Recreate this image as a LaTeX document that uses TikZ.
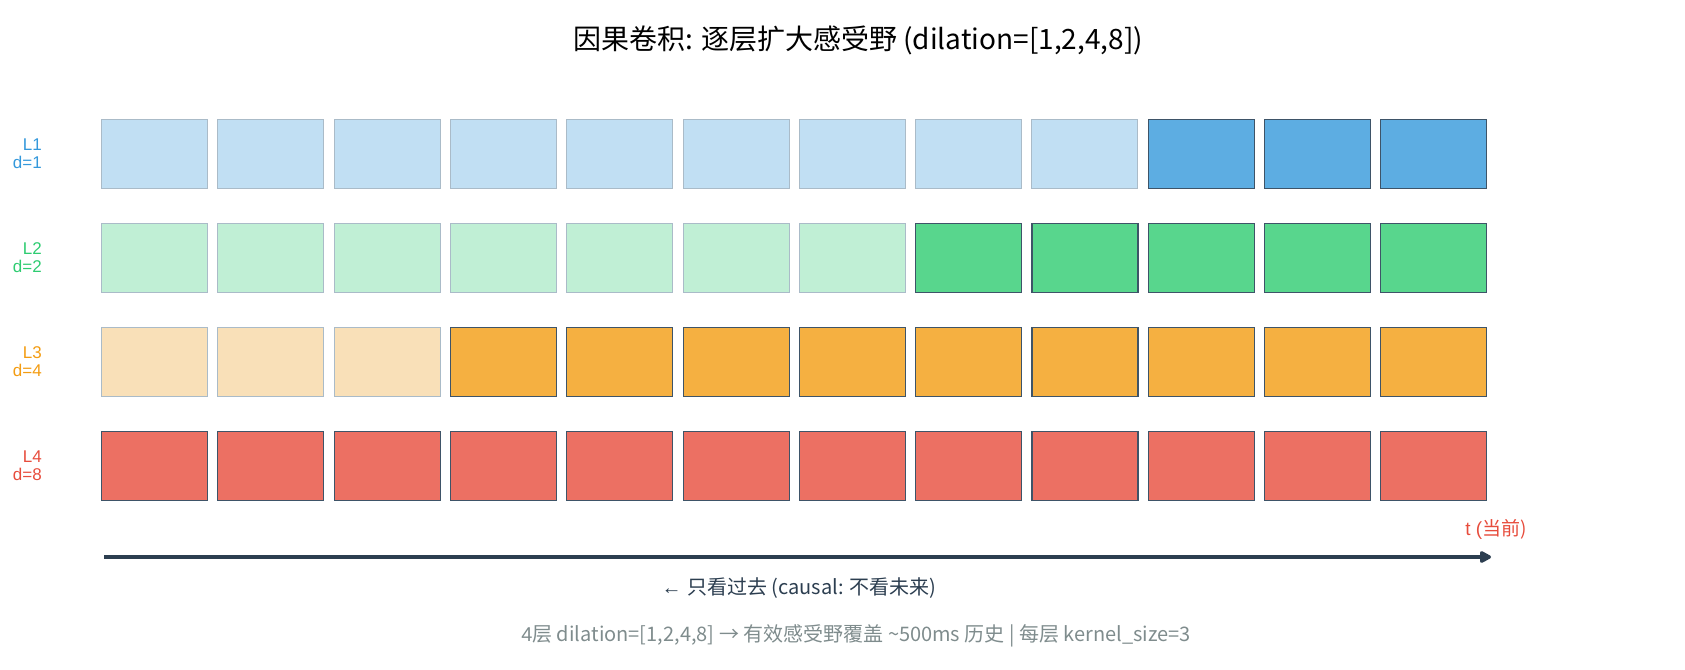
\documentclass[tikz,border=0pt]{standalone}
\usepackage{fontspec}
\setmainfont{Liberation Sans}
\newfontfamily\cjk{Noto Sans CJK SC}
\usetikzlibrary{arrows.meta}
\definecolor{blueT}{HTML}{3498DB}
\definecolor{blueD}{HTML}{5DADE2}
\definecolor{blueL}{HTML}{C1DFF3}
\definecolor{greenT}{HTML}{2ECC71}
\definecolor{greenD}{HTML}{58D68D}
\definecolor{greenL}{HTML}{C0EFD5}
\definecolor{orangeT}{HTML}{F39C12}
\definecolor{orangeD}{HTML}{F5B041}
\definecolor{orangeL}{HTML}{F9E0B8}
\definecolor{redT}{HTML}{E74C3C}
\definecolor{redD}{HTML}{EC7063}
\definecolor{navy}{HTML}{2C3E50}
\definecolor{edgeD}{HTML}{3E5468}
\definecolor{edgeL}{HTML}{AABBC8}
\definecolor{grayT}{HTML}{7F8C8D}
\tikzset{
  cell/.style={rectangle, minimum width=106pt, minimum height=69pt, inner sep=0pt, anchor=north west},
  active/.style={cell, fill=#1, draw=edgeD, line width=1.1pt},
  inactive/.style={cell, fill=#1, draw=edgeL, line width=1pt},
  lab/.style={align=right, anchor=east, font=\fontsize{17}{18}\selectfont, inner sep=0pt},
  txt/.style={inner sep=0pt},
}
\begin{document}
\begin{tikzpicture}[x=1pt,y=-1pt]
\useasboundingbox (0,0) rectangle (1685,669);
\node[txt] (title) at (858,40) {\fontsize{28}{32}\selectfont \cjk{因果卷积}: \cjk{逐层扩大感受野} (dilation=[1,2,4,8])};
% rows
\foreach \j/\cD/\cL/\cT/\nact/\lab in {0/blueD/blueL/blueT/9/{L1\\d=1}, 1/greenD/greenL/greenT/7/{L2\\d=2}, 2/orangeD/orangeL/orangeT/3/{L3\\d=4}, 3/redD/redL/redT/0/{L4\\d=8}}{
  \node[lab, text=\cT] (lab\j) at (42, 153.5+104*\j) {\lab};
  \foreach \i in {0,...,11}{
    \ifnum\i<\nact
      \node[inactive=\cL] (b\j-\i) at (101+116.3*\i, 119+104*\j) {};
    \else
      \node[active=\cD] (b\j-\i) at (101+116.3*\i, 119+104*\j) {};
    \fi
  }
}
\coordinate (tstart) at (104,557);
\coordinate (tend) at (1491,557);
\draw[navy, line width=3.5pt, -{Triangle[length=13pt,width=13pt,round]}] (tstart) -- (tend);
\node[txt, text=redT] (tnow) at (1496,529) {\fontsize{19}{20}\selectfont t (\cjk{当前})};
\node[txt, text=navy] (causal) at (799,588) {\fontsize{20}{22}\selectfont ← \cjk{只看过去} (causal: \cjk{不看未来})};
\node[txt, text=grayT] (foot) at (856,636) {\fontsize{20}{22}\selectfont 4\cjk{层} dilation=[1,2,4,8] → \cjk{有效感受野覆盖} \char"7E 500ms \cjk{历史} | \cjk{每层} kernel\_size=3};
\end{tikzpicture}
\end{document}
